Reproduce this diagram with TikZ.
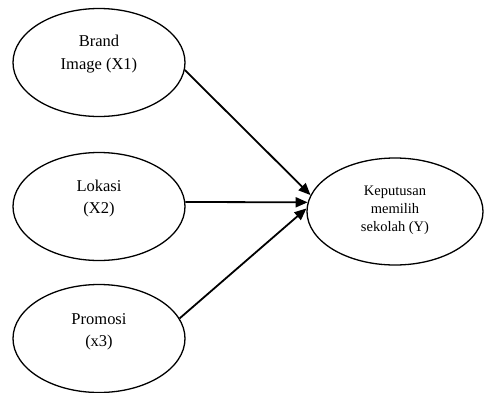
\documentclass[tikz,border=0pt]{standalone}
\usepackage{fontspec}
\setmainfont{Liberation Serif}
\usetikzlibrary{shapes.geometric,arrows.meta}
\begin{document}
\begin{tikzpicture}[x=1pt,y=-1pt,
  var/.style={ellipse,draw,line width=1.3pt,minimum width=172pt,minimum height=108pt,inner sep=0pt},
  dep/.style={ellipse,draw,line width=1.3pt,minimum width=176pt,minimum height=107pt,inner sep=0pt},
  vtext/.style={align=center,font=\fontsize{16.5}{22.5}\selectfont},
  ytext/.style={align=center,font=\fontsize{14.5}{18}\selectfont},
  link/.style={line width=1.8pt,-{Triangle[length=12pt,width=10pt]}}]
\useasboundingbox (0,0) rectangle (488,392);
\node[var] (b1) at (99,62.5) {};
\node[var] (b2) at (99,206.5) {};
\node[var] (b3) at (99,338.5) {};
\node[dep] (y) at (395,211.5) {};
\node[vtext] (t1) at (99,54) {Brand\\Image (X1)};
\node[vtext] (t2) at (99,198.5) {Lokasi\\(X2)};
\node[vtext] (t3) at (99,332) {Promosi\\(x3)};
\node[ytext] (ty) at (395,210.5) {Keputusan\\memilih\\sekolah (Y)};
\draw[link] (b1.-5) -- (y.169.5);
\draw[link] (b2.3) -- (y.174);
\draw[link] (b3.14) -- (y.178);
\end{tikzpicture}
\end{document}
